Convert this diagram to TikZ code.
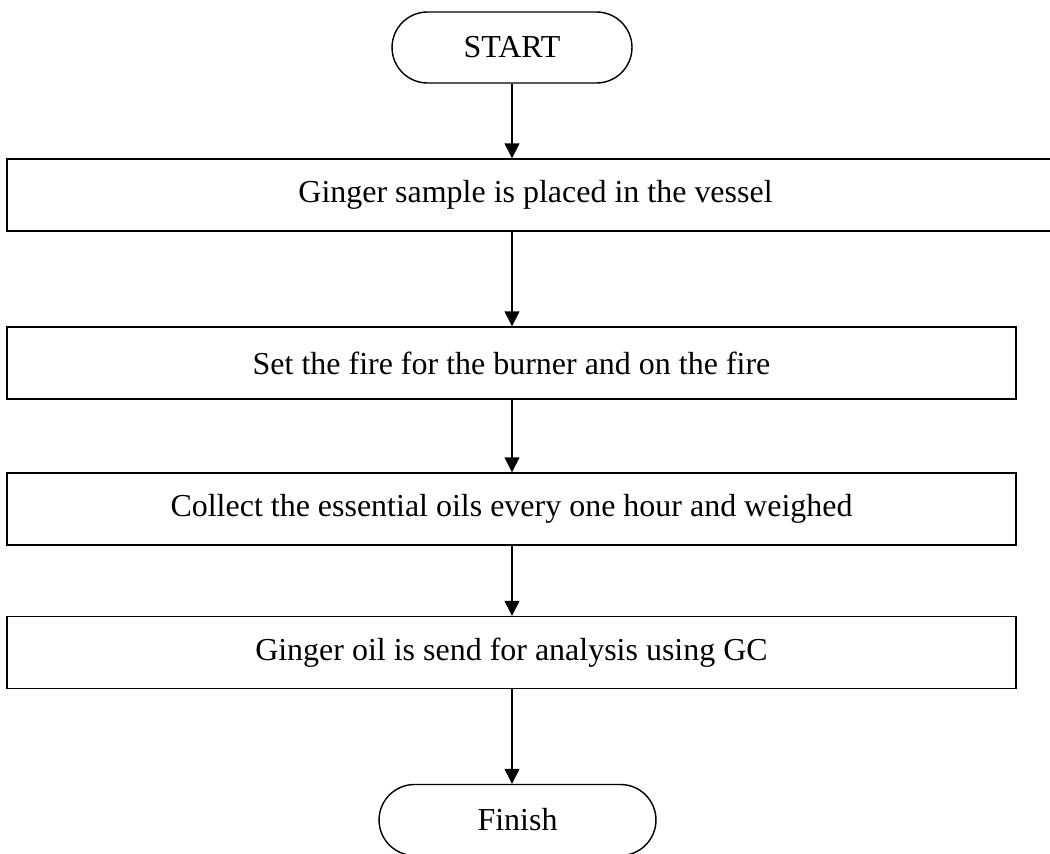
\documentclass[tikz,border=0pt]{standalone}
\usepackage{fontspec}
\setmainfont{Liberation Serif}
\usepackage{tikz}
\usetikzlibrary{arrows.meta, positioning}

\begin{document}
\begin{tikzpicture}[x=0.02cm, y=-0.02cm,
  stepbox/.style={draw, line width=0.8pt, minimum height=1.44cm, inner sep=0pt, font=\fontsize{18.2}{21}\selectfont},
  terminal/.style={draw, line width=0.8pt, rounded corners=0.71cm, minimum height=1.42cm, inner sep=0pt, font=\fontsize{18.2}{21}\selectfont},
  flow/.style={-{Triangle[length=0.3cm, width=0.3cm]}, line width=0.8pt}]
  \useasboundingbox (0,0) rectangle (1050,854);
  % terminals
  \node[terminal, minimum width=4.8cm] (start) at (512,47.5) {START};
  \node[terminal, minimum width=5.54cm] (finish) at (517.5,820) {Finish};
  % process steps
  \node[stepbox, minimum width=21.14cm] (sample) at (535.5,195) {Ginger sample is placed in the vessel};
  \node[stepbox, minimum width=20.18cm] (fire) at (511.5,363) {Set the fire for the burner and on the fire};
  \node[stepbox, minimum width=20.18cm] (collect) at (511.5,509) {Collect the essential oils every one hour and weighed};
  \node[stepbox, minimum width=20.18cm] (analysis) at (511.5,652.5) {Ginger oil is send for analysis using GC};
  % arrows
  \draw[flow] (start.south) -- (start.south |- sample.north);
  \draw[flow] (start.south |- sample.south) -- (start.south |- fire.north);
  \draw[flow] (start.south |- fire.south) -- (start.south |- collect.north);
  \draw[flow] (start.south |- collect.south) -- (start.south |- analysis.north);
  \draw[flow] (start.south |- analysis.south) -- (start.south |- finish.north);
\end{tikzpicture}
\end{document}
